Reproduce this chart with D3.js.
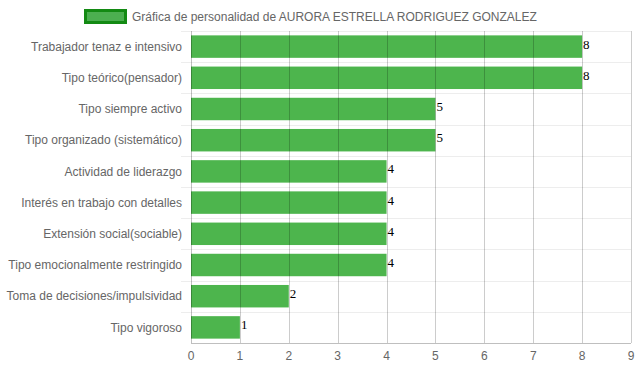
<!DOCTYPE html>
<html>
<head>
<meta charset="utf-8">
<script src="https://cdn.jsdelivr.net/npm/d3@7"></script>
<style>
  body { margin: 0; background: #fff; }
  #chart { width: 637px; height: 371px; }
  text { font-family: "Liberation Sans", Arial, sans-serif; }
  text.val { font-family: "Liberation Serif", "Times New Roman", serif; }
</style>
</head>
<body>
<div id="chart"></div>
<script>
const categories = [
    "Trabajador tenaz e intensivo",
    "Tipo teórico(pensador)",
    "Tipo siempre activo",
    "Tipo organizado (sistemático)",
    "Actividad de liderazgo",
    "Interés en trabajo con detalles",
    "Extensión social(sociable)",
    "Tipo emocionalmente restringido",
    "Toma de decisiones/impulsividad",
    "Tipo vigoroso"
];
const values = [8, 8, 5, 5, 4, 4, 4, 4, 2, 1];
const xTicks = [0, 1, 2, 3, 4, 5, 6, 7, 8, 9];
const legendLabel = "Gráfica de personalidad de AURORA ESTRELLA RODRIGUEZ GONZALEZ";

const width = 637, height = 371;
const margin = { top: 31, right: 6, bottom: 28, left: 191 };

const svg = d3.select("#chart")
    .append("svg")
    .attr("width", width)
    .attr("height", height);

const x = d3.scaleLinear()
    .domain([0, 9])
    .range([margin.left, width - margin.right]);

const yBand = d3.scaleBand()
    .domain(categories)
    .range([margin.top, height - margin.bottom]);

// bars take 0.8 * 0.9 of the band
const barH = yBand.bandwidth() * 0.72;

// legend
svg.append("rect")
    .attr("x", 85.5).attr("y", 10.5)
    .attr("width", 40).attr("height", 12)
    .attr("fill", "#4caf50")
    .attr("stroke", "#138a13")
    .attr("stroke-width", 3);

svg.append("text")
    .attr("x", 132).attr("y", 20.5)
    .attr("font-size", 12)
    .attr("fill", "#666")
    .text(legendLabel);

// horizontal gridlines between categories
const hLines = categories.map(c => yBand(c));
svg.append("g")
    .selectAll("line")
    .data(hLines)
    .enter().append("line")
    .attr("x1", margin.left - 10).attr("x2", width - margin.right)
    .attr("y1", d => Math.round(d) + 0.5).attr("y2", d => Math.round(d) + 0.5)
    .attr("stroke", "rgba(0,0,0,0.07)");

// bars
svg.append("g")
    .selectAll("rect")
    .data(values)
    .enter().append("rect")
    .attr("x", x(0))
    .attr("y", (d, i) => yBand(categories[i]) + (yBand.bandwidth() - barH) / 2)
    .attr("width", d => x(d) - x(0))
    .attr("height", barH)
    .attr("fill", "#4db54d");

// vertical gridlines (drawn over bars)
svg.append("g")
    .selectAll("line")
    .data(xTicks)
    .enter().append("line")
    .attr("x1", d => Math.round(x(d)) + 0.5).attr("x2", d => Math.round(x(d)) + 0.5)
    .attr("y1", margin.top).attr("y2", height - margin.bottom)
    .attr("stroke", d => d === 0 ? "rgba(0,0,0,0.25)" : "rgba(0,0,0,0.2)");

// bottom axis line
svg.append("line")
    .attr("x1", margin.left).attr("x2", width - margin.right)
    .attr("y1", height - margin.bottom + 0.5).attr("y2", height - margin.bottom + 0.5)
    .attr("stroke", "rgba(0,0,0,0.25)");

// x tick labels
svg.append("g")
    .selectAll("text")
    .data(xTicks)
    .enter().append("text")
    .attr("x", d => x(d))
    .attr("y", height - margin.bottom + 17)
    .attr("text-anchor", "middle")
    .attr("font-size", 12)
    .attr("fill", "#666")
    .text(d => d);

// category labels
svg.append("g")
    .selectAll("text")
    .data(categories)
    .enter().append("text")
    .attr("x", margin.left - 9)
    .attr("y", d => yBand(d) + yBand.bandwidth() / 2)
    .attr("dy", "0.35em")
    .attr("text-anchor", "end")
    .attr("font-size", 12)
    .attr("fill", "#666")
    .text(d => d);

// value labels
svg.append("g")
    .selectAll("text")
    .data(values)
    .enter().append("text")
    .attr("class", "val")
    .attr("x", d => x(d) + 1)
    .attr("y", (d, i) => yBand(categories[i]) + yBand.bandwidth() / 2 + 2)
    .attr("font-size", 13)
    .attr("fill", "#000")
    .text(d => d);
</script>
</body>
</html>
